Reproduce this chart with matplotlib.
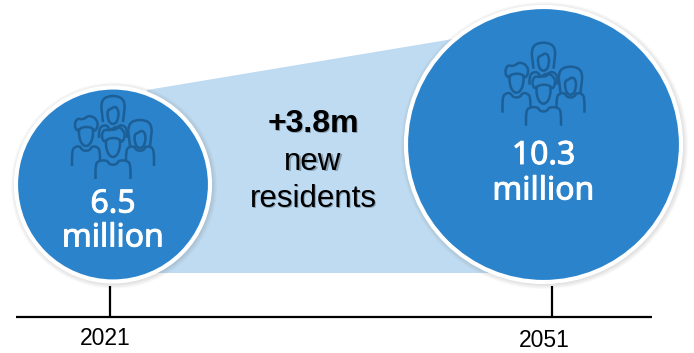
import matplotlib
matplotlib.use('Agg')

import numpy as np
import matplotlib.pyplot as plt
import matplotlib.patheffects as pe
from matplotlib.patches import Circle, Polygon, PathPatch
from matplotlib.path import Path

# Population figures
years = ['2021', '2051']
population = [6.5, 10.3]
change_label = '+3.8m'
change_lines = ['new', 'residents']

BLUE = '#2B83CB'
LIGHT_BLUE = '#BFDBF1'
ICON = '#1C5F97'

fig = plt.figure(figsize=(6.94, 3.53), dpi=100)
ax = fig.add_axes([0, 0, 1, 1])
ax.set_xlim(0, 694)
ax.set_ylim(353, 0)
ax.axis('off')


def smooth(points, closed=False):
    # quadratic spline through the midpoints of the control polygon
    pts = np.array(points, dtype=float)
    if closed:
        start = (pts[-1] + pts[0]) / 2
        verts = [start]
        codes = [Path.MOVETO]
        for i in range(len(pts)):
            verts += [pts[i], (pts[i] + pts[(i + 1) % len(pts)]) / 2]
            codes += [Path.CURVE3, Path.CURVE3]
        return Path(verts, codes)
    verts = [pts[0]]
    codes = [Path.MOVETO]
    for i in range(1, len(pts) - 1):
        end = (pts[i] + pts[i + 1]) / 2 if i < len(pts) - 2 else pts[i + 1]
        verts += [pts[i], end]
        codes += [Path.CURVE3, Path.CURVE3]
    return Path(verts, codes)


def stroke(points, ox, oy, closed=False, fill=False, z=5):
    pts = [(x + ox, y + oy) for x, y in points]
    ax.add_patch(PathPatch(smooth(pts, closed), lw=1.8, ec=ICON,
                           fc=BLUE if fill else 'none',
                           capstyle='butt', joinstyle='round', zorder=z))


def body(ox, top, bottom, half, z):
    # shoulders and neck of one figure
    stroke([(-half, bottom), (-half, bottom), (-half, top + 6), (-half + 2, top + 1),
            (-6, top), (-4, top + 4), (0, top + 5), (4, top + 4), (6, top),
            (half - 2, top + 1), (half, top + 6), (half, bottom), (half, bottom)],
           ox, 0, fill=True, z=z)


def man(ox, oy, top, bottom, half, z):
    body(ox, top, bottom, half, z)
    stroke([(-7, -2), (-7, -2), (-7, 8), (-3, 16), (3, 16), (7, 8), (7, -2), (7, -2)],
           ox, oy, fill=True, z=z)
    stroke([(-8, 2), (-12, -4), (-9, -12), (-3, -10), (3, -15), (11, -11), (12, -3),
            (8, 2), (6, -3), (-5, -3)], ox, oy, closed=True, z=z)


def woman(ox, oy, top, bottom, half, z):
    stroke([(-10, 13), (-10, 13), (-13, -13), (13, -13), (10, 13), (10, 13)],
           ox, oy, fill=True, z=z)
    body(ox, top, bottom, half, z)
    stroke([(-5.5, 1), (-5.5, 8), (-3, 15), (3, 15), (5.5, 8), (5.5, 1), (2, -3), (-2, 0)],
           ox, oy, closed=True, fill=True, z=z)


def people(cx, top):
    # four figures, back row first
    woman(cx, top + 13, top + 29, top + 42, 14, 4)
    man(cx - 27, top + 34, top + 50, top + 70, 14, 5)
    woman(cx + 27, top + 37, top + 50, top + 70, 14, 5)
    man(cx, top + 45, top + 64, top + 83, 17.5, 6)


def bubble(cx, cy, r, value, top, value_y, unit_y):
    # soft shadow under the white ring
    for i in range(7):
        ax.add_patch(Circle((cx + 1, cy + 1), r + 6 - i, fc='#555555', ec='none',
                            alpha=0.035, zorder=2))
    ax.add_patch(Circle((cx, cy), r, fc=BLUE, ec='white', lw=3, zorder=3))
    people(cx, top)
    white_bold = [pe.withStroke(linewidth=0.7, foreground='white')]
    ax.text(cx, value_y, '%.1f' % value, color='white', ha='center', va='baseline',
            family='Noto Sans', fontsize=23, zorder=7, path_effects=white_bold)
    ax.text(cx, unit_y, 'million', color='white', ha='center', va='baseline',
            family='Noto Sans', fontsize=23, zorder=7, path_effects=white_bold)


# widening band between the two circles
ax.add_patch(Polygon([(147, 90), (453, 39), (520, 39), (520, 273), (147, 273)],
                     fc=LIGHT_BLUE, ec='none', zorder=1))

bubble(113, 184.5, 97, population[0], 96, 212.5, 246.5)
bubble(543.5, 144.5, 137.5, population[1], 42.7, 164, 199.5)

# timeline
ax.plot([16, 652], [316.7, 316.7], color='black', lw=1.6, solid_capstyle='butt', zorder=2)
ax.plot([110, 110], [286, 316.7], color='black', lw=1.6, solid_capstyle='butt', zorder=2)
ax.plot([552, 552], [286, 316.7], color='black', lw=1.6, solid_capstyle='butt', zorder=2)
ax.text(105.5, 345, years[0], ha='center', va='baseline', family='Liberation Sans',
        fontsize=16.5, color='black')
ax.text(544.5, 347, years[1], ha='center', va='baseline', family='Liberation Sans',
        fontsize=16.5, color='black')

# text in the middle of the band, with a faint drop shadow
for dx, col, al, z in [(1.2, '#6f8799', 0.7, 2), (0, 'black', 1, 3)]:
    ax.text(313 + dx, 131.5 + dx, change_label, ha='center', va='baseline', family='Liberation Sans',
            weight='bold', fontsize=23, color=col, alpha=al, zorder=z)
    ax.text(313 + dx, 169.5 + dx, change_lines[0], ha='center', va='baseline', family='Liberation Sans',
            fontsize=22.5, color=col, alpha=al, zorder=z)
    ax.text(313 + dx, 207 + dx, change_lines[1], ha='center', va='baseline', family='Liberation Sans',
            fontsize=22.5, color=col, alpha=al, zorder=z)

fig.savefig('out.png', dpi=100)
